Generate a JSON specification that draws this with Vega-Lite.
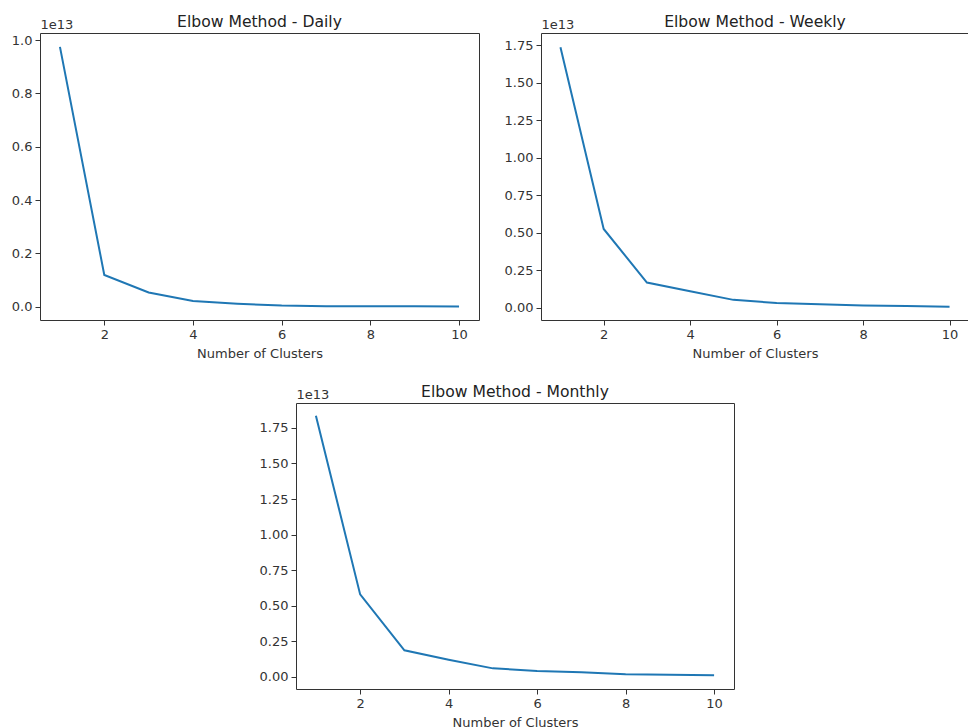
{
  "$schema": "https://vega.github.io/schema/vega-lite/v6.json",
  "padding": {"left": 10, "top": 14, "right": 0, "bottom": 0},
  "background": "white",
  "config": {
    "font": "DejaVu Sans",
    "view": {"stroke": "#333", "strokeWidth": 1},
    "axis": {"grid": false, "domain": false, "tickColor": "#333", "tickSize": 5, "labelColor": "#333", "labelFontSize": 13, "titleColor": "#333", "titleFontSize": 13, "titleFontWeight": "normal", "labelPadding": 3},
    "title": {"fontSize": 15.6, "fontWeight": "normal", "color": "#222", "offset": -13}
  },
  "datasets": {
    "daily": [
      {"k": 1, "sse": 9.75e12}, {"k": 2, "sse": 1.19e12}, {"k": 3, "sse": 0.53e12}, {"k": 4, "sse": 0.21e12}, {"k": 5, "sse": 0.11e12},
      {"k": 6, "sse": 0.04e12}, {"k": 7, "sse": 0.02e12}, {"k": 8, "sse": 0.015e12}, {"k": 9, "sse": 0.012e12}, {"k": 10, "sse": 0.01e12}
    ],
    "weekly": [
      {"k": 1, "sse": 1.735e13}, {"k": 2, "sse": 0.526e13}, {"k": 3, "sse": 0.169e13}, {"k": 4, "sse": 0.111e13}, {"k": 5, "sse": 0.054e13},
      {"k": 6, "sse": 0.033e13}, {"k": 7, "sse": 0.024e13}, {"k": 8, "sse": 0.017e13}, {"k": 9, "sse": 0.013e13}, {"k": 10, "sse": 0.009e13}
    ],
    "monthly": [
      {"k": 1, "sse": 1.836e13}, {"k": 2, "sse": 0.58e13}, {"k": 3, "sse": 0.187e13}, {"k": 4, "sse": 0.121e13}, {"k": 5, "sse": 0.06e13},
      {"k": 6, "sse": 0.042e13}, {"k": 7, "sse": 0.032e13}, {"k": 8, "sse": 0.018e13}, {"k": 9, "sse": 0.015e13}, {"k": 10, "sse": 0.011e13}
    ],
    "empty": []
  },
  "spacing": 23,
  "vconcat": [
    {
      "spacing": 23,
      "hconcat": [
        {
          "width": 439, "height": 287,
          "title": "Elbow Method - Daily",
          "data": {"name": "daily"},
          "mark": {"type": "line", "color": "#1f77b4", "strokeWidth": 2},
          "encoding": {
            "x": {"field": "k", "type": "quantitative", "scale": {"domain": [0.55, 10.45], "nice": false, "zero": false},
                  "axis": {"values": [2, 4, 6, 8, 10], "title": "Number of Clusters", "titlePadding": 6}},
            "y": {"field": "sse", "type": "quantitative", "scale": {"domain": [-0.05e13, 1.027e13], "nice": false, "zero": false},
                  "axis": {"values": [0, 2e12, 4e12, 6e12, 8e12, 1e13], "labelExpr": "format(datum.value/1e13, '.1f')",
                           "title": "1e13", "titleAngle": 0, "titleAlign": "left", "titleBaseline": "bottom", "titleX": 0, "titleY": -2}}
          }
        },
        {
          "width": 428, "height": 287,
          "title": "Elbow Method - Weekly",
          "data": {"name": "weekly"},
          "mark": {"type": "line", "color": "#1f77b4", "strokeWidth": 2},
          "encoding": {
            "x": {"field": "k", "type": "quantitative", "scale": {"domain": [0.55, 10.45], "nice": false, "zero": false},
                  "axis": {"values": [2, 4, 6, 8, 10], "title": "Number of Clusters", "titlePadding": 6}},
            "y": {"field": "sse", "type": "quantitative", "scale": {"domain": [-0.08e13, 1.83e13], "nice": false, "zero": false},
                  "axis": {"values": [0, 2.5e12, 5e12, 7.5e12, 1e13, 1.25e13, 1.5e13, 1.75e13], "labelExpr": "format(datum.value/1e13, '.2f')",
                           "title": "1e13", "titleAngle": 0, "titleAlign": "left", "titleBaseline": "bottom", "titleX": 0, "titleY": -2}}
          }
        }
      ]
    },
    {
      "spacing": 23,
      "hconcat": [
        {
          "width": 195, "height": 10,
          "view": {"stroke": null},
          "data": {"name": "empty"},
          "mark": "point",
          "encoding": {}
        },
        {
          "width": 438, "height": 286,
          "title": "Elbow Method - Monthly",
          "data": {"name": "monthly"},
          "mark": {"type": "line", "color": "#1f77b4", "strokeWidth": 2},
          "encoding": {
            "x": {"field": "k", "type": "quantitative", "scale": {"domain": [0.55, 10.45], "nice": false, "zero": false},
                  "axis": {"values": [2, 4, 6, 8, 10], "title": "Number of Clusters", "titlePadding": 6}},
            "y": {"field": "sse", "type": "quantitative", "scale": {"domain": [-0.085e13, 1.925e13], "nice": false, "zero": false},
                  "axis": {"values": [0, 2.5e12, 5e12, 7.5e12, 1e13, 1.25e13, 1.5e13, 1.75e13], "labelExpr": "format(datum.value/1e13, '.2f')",
                           "title": "1e13", "titleAngle": 0, "titleAlign": "left", "titleBaseline": "bottom", "titleX": 0, "titleY": -2}}
          }
        }
      ]
    }
  ]
}
